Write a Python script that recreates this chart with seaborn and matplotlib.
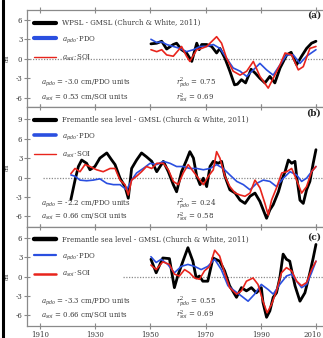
import matplotlib
matplotlib.use("Agg")
import matplotlib.pyplot as plt
from matplotlib.lines import Line2D
from matplotlib.transforms import ScaledTranslation
import seaborn as sns

# ---------------- data (cm) ----------------
# (a) WPSL - GMSL
a_black_yr = [1950.2, 1952.3, 1954.1, 1955.9, 1958.3, 1959.5, 1961.3, 1963.1, 1965.0, 1966.8,
              1967.7, 1968.6, 1970.4, 1972.2, 1974.0, 1975.2, 1977.0, 1978.8, 1980.5, 1981.5,
              1983.0, 1984.5, 1986.5, 1988.0, 1989.7, 1991.5, 1993.3, 1995.1, 1997.0, 1999.4,
              2001.0, 2003.0, 2004.8, 2006.6, 2008.4, 2010.0]
a_black = [2.3, 2.4, 2.7, 1.5, 2.2, 2.4, 1.4, 0.9, -0.4, 2.4,
           1.4, 2.2, 2.2, 1.9, 0.9, 1.6, 0.1, -1.9, -4.0, -3.9,
           -3.2, -3.7, -1.6, -2.2, -3.0, -3.7, -2.7, -3.7, -1.4, 0.6,
           1.0, -0.9, 0.4, 1.6, 2.4, 2.7]
a_red_yr = [1950.2, 1952.3, 1954.1, 1955.9, 1958.3, 1961.3, 1963.1, 1964.3, 1966.8, 1968.6,
            1970.4, 1972.8, 1974.0, 1975.8, 1977.6, 1980.0, 1982.5, 1984.9, 1987.3, 1989.7,
            1992.7, 1994.5, 1997.0, 1998.8, 2001.2, 2003.6, 2005.4, 2007.8, 2010.0]
a_red = [1.4, 1.1, 1.4, 0.6, 0.4, 1.9, 0.4, -0.4, 1.4, 1.6,
         1.9, 2.9, 3.4, 2.4, 0.1, -1.9, -2.5, -1.9, -0.4, -2.7,
         -4.5, -3.0, -0.9, 0.9, 0.6, -1.7, -1.2, 1.6, 1.9]
a_blue_yr = [1950.2, 1952.3, 1954.1, 1955.9, 1958.3, 1960.7, 1963.1, 1965.6, 1968.0, 1970.4,
             1972.8, 1975.2, 1977.6, 1980.0, 1982.5, 1984.9, 1987.3, 1989.7, 1992.1, 1994.5,
             1997.0, 1999.4, 2001.8, 2004.2, 2006.6, 2010.0]
a_blue = [3.0, 2.5, 2.6, 2.2, 1.9, 1.6, 1.1, 1.4, 1.9, 1.9,
          2.2, 1.6, 0.1, -1.4, -1.9, -2.7, -1.7, -0.7, -1.7, -2.5,
          -0.9, 0.6, 0.6, -0.7, 0.4, 1.4]

# (b) Fremantle sea level - GMSL, long record
b_black_yr = [1921.2, 1922.7, 1923.9, 1925.1, 1926.9, 1928.1, 1929.9, 1931.7, 1934.2, 1936.0,
              1937.2, 1939.0, 1940.8, 1942.0, 1943.2, 1945.0, 1946.8, 1948.6, 1950.5, 1952.3,
              1953.5, 1954.7, 1956.5, 1958.3, 1959.5, 1961.3, 1963.1, 1964.3, 1965.6, 1966.8,
              1968.0, 1969.2, 1970.4, 1971.6, 1972.8, 1974.6, 1975.8, 1977.0, 1978.8, 1980.7,
              1982.5, 1984.3, 1986.1, 1987.9, 1989.7, 1990.9, 1992.1, 1993.3, 1994.5, 1996.4,
              1997.6, 1998.8, 2000.0, 2001.2, 2002.4, 2003.0, 2004.2, 2005.4, 2006.6, 2007.8,
              2009.0, 2010.0]
b_black = [-3.4, -0.4, 1.7, 2.7, 2.2, 1.2, 1.7, 3.0, 3.8, 2.7,
           2.0, -0.1, -1.4, -3.2, 1.4, 2.7, 3.8, 3.2, 2.5, 0.9,
           1.7, 2.5, 0.9, -1.1, -2.2, 0.9, 2.7, 4.0, 3.0, 0.2,
           -1.1, -0.1, -1.4, 1.7, 2.5, 2.2, 2.5, 0.2, -1.9, -2.4,
           -3.5, -4.0, -2.9, -2.4, -3.7, -5.0, -6.3, -5.0, -4.2, -2.2,
           -0.4, 0.9, 2.7, 2.2, 2.5, 0.2, -3.5, -4.0, -1.9, -0.6,
           2.2, 4.3]
b_red_yr = [1921.2, 1922.7, 1924.5, 1926.3, 1928.1, 1930.5, 1932.9, 1935.4, 1937.2, 1939.0,
            1940.8, 1942.0, 1943.2, 1945.0, 1946.8, 1948.6, 1950.5, 1952.3, 1954.7, 1956.5,
            1958.3, 1960.1, 1961.9, 1963.7, 1965.6, 1967.4, 1969.2, 1971.0, 1972.8, 1974.0,
            1975.2, 1977.0, 1978.8, 1980.7, 1982.5, 1984.3, 1986.1, 1987.9, 1989.7, 1991.5,
            1992.7, 1993.9, 1995.7, 1997.6, 1999.4, 2001.2, 2003.0, 2004.8, 2006.6, 2008.4,
            2010.0]
b_red = [0.6, 1.4, 0.9, 2.0, 1.7, 1.2, 0.9, 1.4, 1.4, -0.4,
         -1.1, -2.7, -0.4, 0.2, 0.9, 1.7, 1.4, 2.2, 2.2, 1.2,
         -0.6, -1.1, 0.7, 2.0, 0.9, -0.1, -1.1, 0.2, 1.2, 4.0,
         3.0, 0.2, -1.4, -2.4, -2.7, -2.9, -2.4, -0.4, -1.6, -4.0,
         -5.8, -3.5, -1.6, 0.7, 0.9, 1.4, -0.4, -2.4, -1.4, 0.9,
         1.7]
b_blue_yr = [1921.2, 1922.7, 1924.5, 1926.9, 1929.3, 1931.7, 1934.2, 1936.6, 1939.0, 1941.4,
             1943.2, 1945.0, 1947.4, 1949.9, 1952.3, 1954.7, 1957.1, 1959.5, 1961.9, 1964.3,
             1966.8, 1969.2, 1971.6, 1974.0, 1976.4, 1978.8, 1981.3, 1983.7, 1986.1, 1988.5,
             1990.9, 1993.3, 1995.7, 1998.2, 2000.6, 2003.0, 2004.8, 2006.6, 2008.4, 2010.0]
b_blue = [0.4, 0.2, -0.4, -0.5, -0.4, -0.2, -0.9, -1.1, -1.1, -1.9,
          -0.4, 0.7, 1.4, 2.2, 2.0, 2.5, 2.2, 1.7, 1.7, 1.4,
          1.4, 1.2, 1.4, 2.0, 1.4, 0.4, -0.6, -1.1, -1.9, -0.9,
          -0.4, -0.6, -1.4, -0.1, 0.9, 0.4, -0.6, -0.1, 0.9, 1.7]

# (c) Fremantle sea level - GMSL, 1950 onward
c_black_yr = [1950.2, 1952.1, 1954.5, 1956.9, 1958.7, 1959.9, 1961.8, 1963.6, 1965.4, 1966.6,
              1967.8, 1969.0, 1970.8, 1972.7, 1975.1, 1976.9, 1978.7, 1981.2, 1983.0, 1984.8,
              1986.6, 1988.4, 1990.2, 1990.8, 1992.1, 1993.3, 1994.5, 1995.7, 1996.9, 1998.1,
              1999.3, 2000.5, 2002.4, 2004.2, 2006.0, 2007.8, 2009.0, 2010.0]
c_black = [2.7, 0.6, 2.9, 2.8, -1.7, 0.1, 2.4, 4.5, 2.4, -0.2,
           0.1, -0.7, -0.7, 2.9, 2.4, 0.9, -1.4, -3.2, -1.7, -2.2,
           -1.7, -2.5, -1.7, -4.0, -6.3, -5.3, -3.2, -2.5, -0.2, 3.5,
           2.7, 2.4, -1.4, -3.8, -2.5, 0.6, 2.9, 5.0]
c_red_yr = [1950.2, 1952.1, 1954.5, 1956.9, 1958.7, 1960.5, 1962.4, 1964.2, 1966.0, 1967.8,
            1969.6, 1971.5, 1973.3, 1975.1, 1976.9, 1978.7, 1981.2, 1983.0, 1984.8, 1987.2,
            1989.0, 1990.8, 1992.3, 1993.9, 1995.7, 1997.5, 1999.3, 2001.2, 2003.0, 2004.8,
            2006.6, 2008.4, 2010.0]
c_red = [1.8, 1.1, 2.3, 1.9, 0.4, 0.1, 1.1, 0.6, -0.2, -0.4,
         0.9, 1.6, 4.1, 3.2, 0.6, -1.7, -2.7, -2.2, -0.7, -0.2,
         -1.2, -3.8, -5.6, -4.3, -2.2, 0.6, 1.4, 0.9, -0.7, -1.4,
         -0.9, 1.1, 2.4]
c_blue_yr = [1950.2, 1952.1, 1953.9, 1956.3, 1958.7, 1961.2, 1963.6, 1966.0, 1968.4, 1970.8,
             1973.3, 1975.7, 1978.1, 1980.5, 1983.0, 1985.4, 1987.8, 1990.2, 1992.7, 1994.5,
             1996.9, 1999.3, 2001.2, 2003.0, 2004.8, 2006.6, 2008.4, 2010.0]
c_blue = [3.1, 2.2, 2.7, 1.9, 0.6, 1.6, 1.9, 1.6, 1.1, 1.6,
          2.7, 1.1, -1.4, -2.2, -3.0, -3.8, -2.7, -1.2, -2.0, -2.7,
          -1.2, 0.1, 0.4, -0.7, -1.7, -1.2, 0.6, 2.4]

panel_tags = ["(a)", "(b)", "(c)"]
legend_first = ["WPSL - GMSL (Church & White, 2011)",
                "Fremantle sea level - GMSL (Church & White, 2011)",
                "Fremantle sea level - GMSL (Church & White, 2011)"]
a_pdo_text = ["-3.0", "-2.2", "-3.3"]
a_soi_text = ["0.53", "0.66", "0.66"]
r2_pdo_text = ["0.75", "0.24", "0.55"]
r2_soi_text = ["0.69", "0.58", "0.69"]
y_ticks = [[-6, -3, 0, 3, 6], [-6, -3, 0, 3, 6, 9], [-6, -3, 0, 3, 6]]
y_limits = [(-7.4, 7.5), (-7.6, 10.9), (-7.6, 7.75)]
zero_start = [1905.4, 1911.2, 1940.2]
x_ticks = [1910, 1930, 1950, 1970, 1990, 2010]

# ---------------- style ----------------
sns.set_style("white")
plt.rcParams["font.family"] = ["DejaVu Serif"]
plt.rcParams["mathtext.fontset"] = "dejavuserif"

BLACK = "#000000"
BLUE = "#2a4fe0"
RED = "#e8241c"
GREY = "#8a8a8a"
TXT = "#3a3a3a"

W, H = 323, 338
fig = plt.figure(figsize=(W / 100, H / 100), dpi=100)

x_left, x_right = 27.3, 327.0
tops = [10.0, 107.0, 226.7]
bottoms = [107.0, 226.7, 325.7]

series = [
    (a_black_yr, a_black, a_blue_yr, a_blue, a_red_yr, a_red),
    (b_black_yr, b_black, b_blue_yr, b_blue, b_red_yr, b_red),
    (c_black_yr, c_black, c_blue_yr, c_blue, c_red_yr, c_red),
]

legend_lw = [(3.0, 3.0, 1.0), (3.0, 2.6, 1.0), (3.2, 1.6, 1.8)]
FS = 5.0
FS_ANN = 5.0

for i in range(3):
    ax = fig.add_axes([x_left / W, 1 - bottoms[i] / H,
                       (x_right - x_left) / W, (bottoms[i] - tops[i]) / H])
    bx, by, ux, uy, rx, ry = series[i]

    ax.hlines(0, zero_start[i], 2016, colors=GREY, linestyles=(0, (1, 1.2)), lw=0.9, zorder=1)
    sns.lineplot(x=ux, y=uy, ax=ax, color=BLUE, lw=1.2, zorder=3)
    sns.lineplot(x=rx, y=ry, ax=ax, color=RED, lw=1.2, zorder=4)
    sns.lineplot(x=bx, y=by, ax=ax, color=BLACK, lw=2.0, zorder=2)

    ax.set_xlim(1905.4, 2014.0)
    ax.set_ylim(*y_limits[i])
    ax.set_xticks(x_ticks)
    ax.set_yticks(y_ticks[i])
    ax.set_xlabel("")
    ax.set_ylabel("cm", fontsize=3.5, color=TXT)
    ax.yaxis.set_label_coords(-0.058, 0.5)

    for s in ax.spines.values():
        s.set_color(GREY)
        s.set_linewidth(0.9)
    ax.tick_params(axis="both", direction="inout", length=4, width=0.8, color=GREY,
                   labelsize=FS, labelcolor=TXT, pad=1.5)
    ax.tick_params(axis="x", top=True, bottom=True)
    ax.tick_params(axis="y", left=True, right=False)
    if i < 2:
        ax.tick_params(axis="x", labelbottom=False)
    else:
        # keep the last year label inside the page
        last = ax.get_xticklabels()[-1]
        last.set_transform(last.get_transform() + ScaledTranslation(-3 / 100, 0, fig.dpi_scale_trans))
    ax.set_yticklabels([str(v) for v in y_ticks[i]])

    lw_k, lw_b, lw_r = legend_lw[i]
    handles = [Line2D([], [], color=BLACK, lw=lw_k),
               Line2D([], [], color=BLUE, lw=lw_b),
               Line2D([], [], color=RED, lw=lw_r)]
    labels = [legend_first[i], r"$a_{pdo}\!\cdot\!$PDO", r"$a_{soi}\!\cdot\!$SOI"]
    h_ax = bottoms[i] - tops[i]
    leg = ax.legend(handles, labels, loc="upper left",
                    bbox_to_anchor=((34 - x_left) / (x_right - x_left), 1 - 9.0 / h_ax),
                    frameon=False, fontsize=FS, handlelength=3.2, handletextpad=0.85,
                    labelspacing=1.05, borderaxespad=0, borderpad=0)
    for t in leg.get_texts():
        t.set_color(TXT)

    row1 = [83.0, 204.0, 301.5][i]
    row2 = [98.0, 217.0, 315.5][i]
    y1 = (bottoms[i] - row1) / h_ax
    y2 = (bottoms[i] - row2) / h_ax
    xa = (41 - x_left) / (x_right - x_left)
    xr = (176 - x_left) / (x_right - x_left)
    ax.text(xa, y1, r"$a_{pdo}$ = " + a_pdo_text[i] + " cm/PDO units",
            transform=ax.transAxes, fontsize=FS_ANN, color=TXT, va="center", ha="left")
    ax.text(xa, y2, r"$a_{soi}$ = " + a_soi_text[i] + " cm/SOI units",
            transform=ax.transAxes, fontsize=FS_ANN, color=TXT, va="center", ha="left")
    ax.text(xr, y1, r"$r^2_{pdo}$ = " + r2_pdo_text[i],
            transform=ax.transAxes, fontsize=FS_ANN, color=TXT, va="center", ha="left")
    ax.text(xr, y2, r"$r^2_{soi}$ = " + r2_soi_text[i],
            transform=ax.transAxes, fontsize=FS_ANN, color=TXT, va="center", ha="left")

    tag_y = [15.0, 113.5, 237.5][i]
    ax.text((321 - x_left) / (x_right - x_left), (bottoms[i] - tag_y) / h_ax, panel_tags[i],
            transform=ax.transAxes, fontsize=6.5, fontweight="bold", color="#222222",
            va="center", ha="right")

# page edge rule on the left
fig.add_artist(Line2D([3.2 / W, 3.2 / W], [0, 1], color="black", lw=2.2,
                      transform=fig.transFigure))

fig.savefig("out.png", dpi=100)
